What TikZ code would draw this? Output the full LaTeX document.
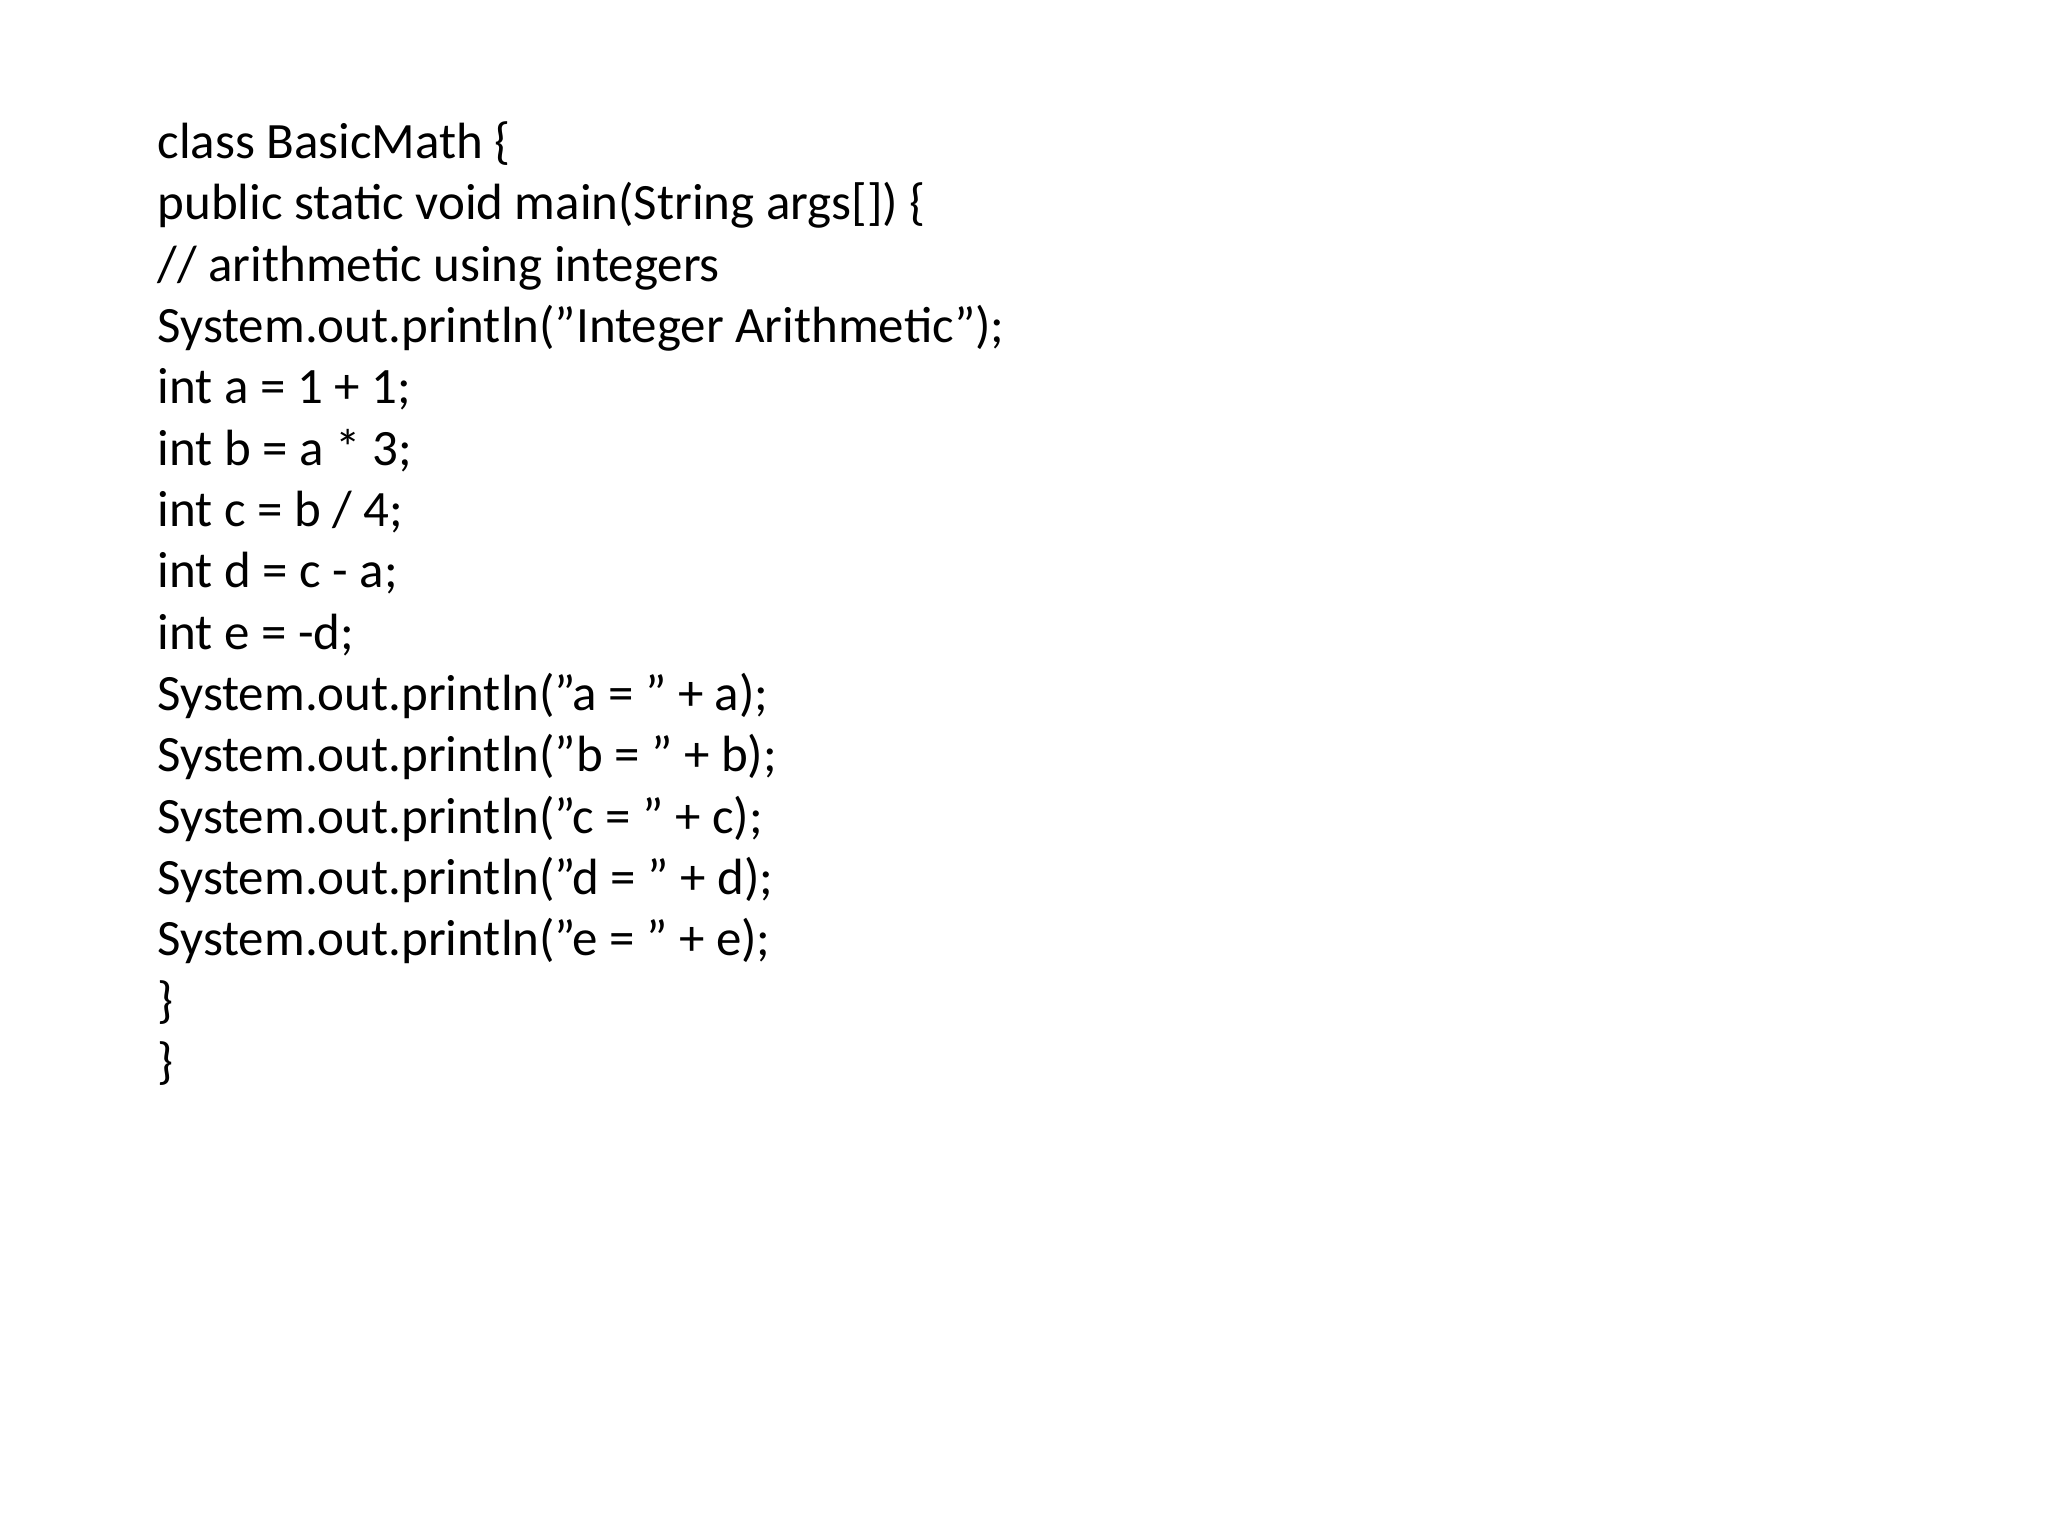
\documentclass[tikz,border=0pt]{standalone}
\usepackage{fontspec}
\setmainfont{Carlito}
\begin{document}
\begin{tikzpicture}
\useasboundingbox (0,0) rectangle (20.48,15.36);
\node[anchor=north west,align=left,inner sep=0pt,font=\fontsize{14.5pt}{17.45pt}\selectfont] (code) at (1.57,14.15) {%
class BasicMath \{\\
public static void main(String args[]) \{\\
// arithmetic using integers\\
System.out.println("Integer Arithmetic");\\
int a = 1 + 1;\\
int b = a * 3;\\
int c = b / 4;\\
int d = c - a;\\
int e = -d;\\
System.out.println("a = " + a);\\
System.out.println("b = " + b);\\
System.out.println("c = " + c);\\
System.out.println("d = " + d);\\
System.out.println("e = " + e);\\
\}\\
\}};
\end{tikzpicture}
\end{document}
